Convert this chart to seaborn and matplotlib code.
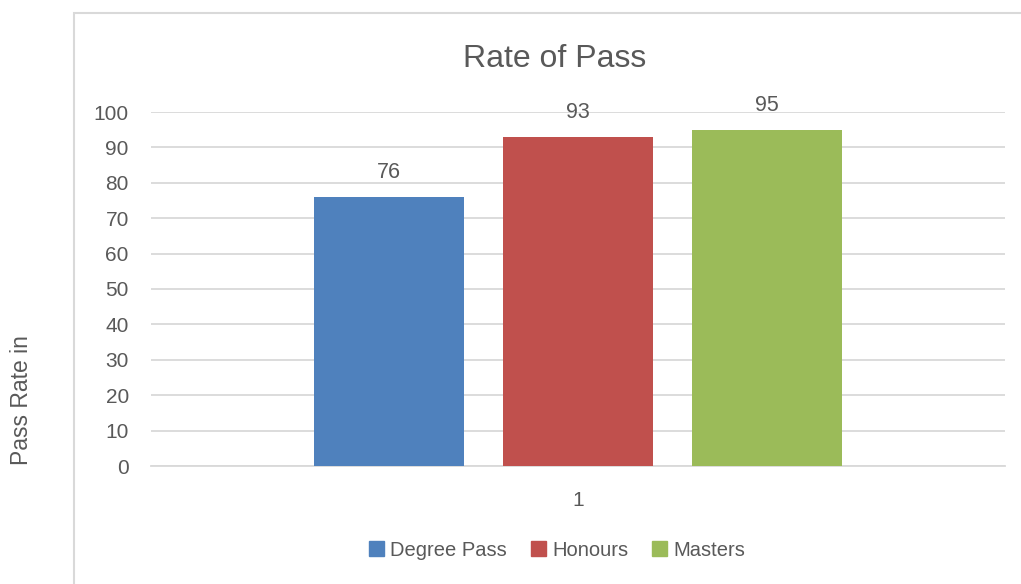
import matplotlib
matplotlib.use("Agg")
import matplotlib.pyplot as plt
from matplotlib.patches import Rectangle
import seaborn as sns
import pandas as pd

# data
categories = ["1", "1", "1"]
series = ["Degree Pass", "Honours", "Masters"]
pass_rate = [76, 93, 95]
colors = ["#4f81bd", "#c0504d", "#9bbb59"]

df = pd.DataFrame({"cat": categories, "series": series, "rate": pass_rate})

sns.set_style("white")
plt.rcParams["font.family"] = ["Liberation Sans", "DejaVu Sans"]
text_col = "#595959"
grid_col = "#d9d9d9"

fig = plt.figure(figsize=(10.21, 5.84), dpi=100)
ax = fig.add_axes([151 / 1021, 118 / 584, 854 / 1021, 354 / 584])

# chart area border
fig.patches.append(Rectangle((74 / 1021, -0.05), 1.1, (584 - 13) / 584 + 0.05,
                             transform=fig.transFigure, fill=False,
                             edgecolor=grid_col, linewidth=1.5, zorder=0))

sns.barplot(data=df, x="cat", y="rate", hue="series", palette=colors,
            width=0.664, gap=0.206, saturation=1, ax=ax, zorder=3,
            edgecolor="none")

ax.set_ylim(0, 100)
ax.set_xlim(-0.5, 0.5)
ax.set_yticks(range(0, 101, 10))
ax.yaxis.grid(True, color=grid_col, linewidth=1.3, zorder=0)
ax.set_axisbelow(True)
for s in ax.spines.values():
    s.set_visible(False)
ax.spines["bottom"].set_visible(True)
ax.spines["bottom"].set_color(grid_col)
ax.spines["bottom"].set_linewidth(1.3)
ax.tick_params(axis="y", length=0, pad=16, labelsize=15, labelcolor=text_col)
ax.tick_params(axis="x", length=0, pad=18, labelsize=15, labelcolor=text_col)
ax.set_xlabel("")
ax.set_ylabel("")

for cont in ax.containers:
    ax.bar_label(cont, padding=10, fontsize=15.5, color=text_col)

fig.text(555 / 1021, 1 - 59 / 584, "Rate of Pass", ha="center", va="center",
         fontsize=23, color=text_col)

fig.text(22 / 1021, 1 - 400 / 584, "Pass Rate in", rotation=90, ha="center",
         va="center", fontsize=16.5, color=text_col)

ax.get_legend().remove()
handles = [Rectangle((0, 0), 1, 1, color=c) for c in colors]
fig.legend(handles, series, loc="center", bbox_to_anchor=(557 / 1021, 1 - 550 / 584),
           ncol=3, frameon=False, fontsize=14.5, labelcolor=text_col,
           handlelength=0.75, handleheight=0.75, handletextpad=0.3, columnspacing=1.2)

fig.savefig("out.png", dpi=100)
